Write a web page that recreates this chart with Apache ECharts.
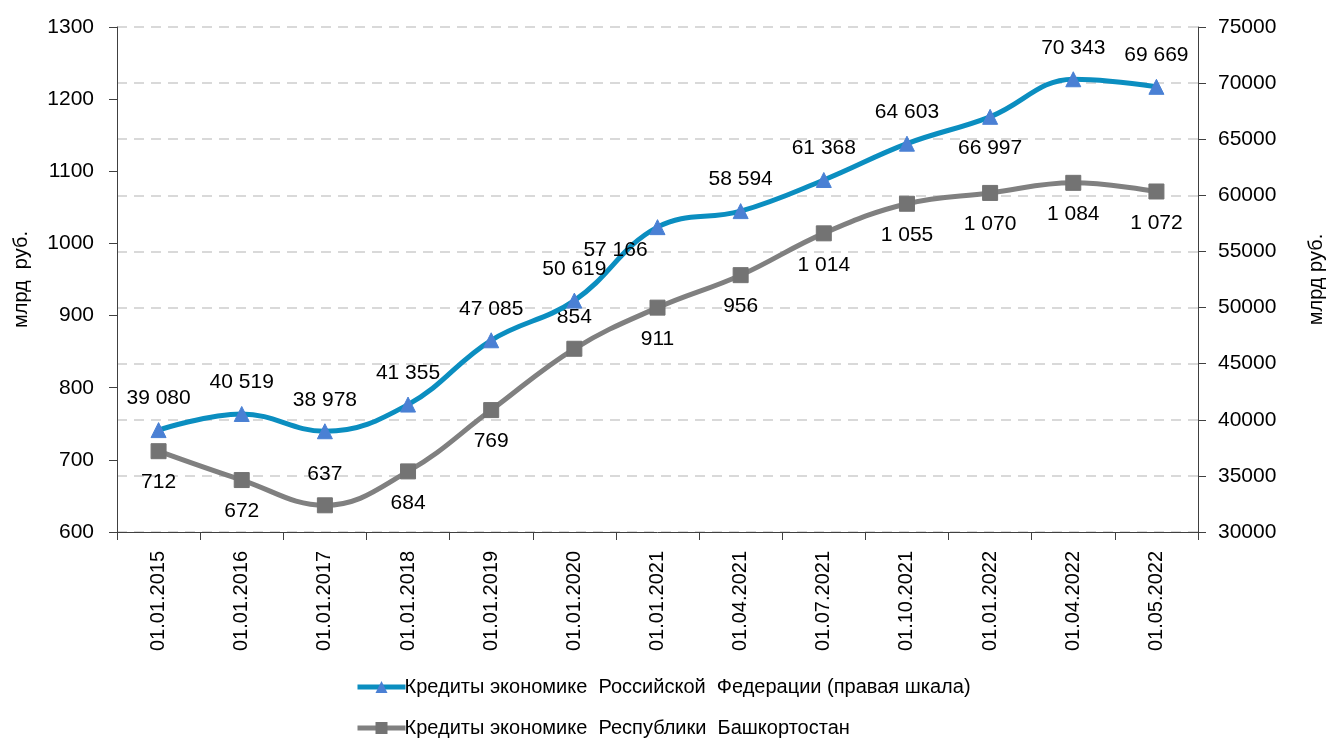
<!DOCTYPE html>
<html>
<head>
<meta charset="utf-8">
<script src="https://cdn.jsdelivr.net/npm/echarts@6/dist/echarts.min.js"></script>
<style>
  html, body { margin: 0; padding: 0; background: #fff; }
  #main { width: 1328px; height: 740px; }
</style>
</head>
<body>
<div id="main"></div>
<script>
    // даты
    var categories = ['01.01.2015', '01.01.2016', '01.01.2017', '01.01.2018', '01.01.2019',
        '01.01.2020', '01.01.2021', '01.04.2021', '01.07.2021', '01.10.2021',
        '01.01.2022', '01.04.2022', '01.05.2022'];
    // млрд руб., правая шкала
    var rfValues = [39080, 40519, 38978, 41355, 47085, 50619, 57166, 58594, 61368, 64603, 66997, 70343, 69669];
    // млрд руб., левая шкала
    var rbValues = [712, 672, 637, 684, 769, 854, 911, 956, 1014, 1055, 1070, 1084, 1072];

    var rfName = 'Кредиты экономике  Российской  Федерации (правая шкала)';
    var rbName = 'Кредиты экономике  Республики  Башкортостан';

    var font = "'Liberation Sans Narrow', 'Arial Narrow', 'Liberation Sans', Arial, sans-serif";

    function fmt(v) {
        // 1084 -> "1 084"
        return String(v).replace(/\B(?=(\d{3})+(?!\d))/g, ' ');
    }

    // подписи, которые стоят не по умолчанию
    var rfLabelPos = {6: {position: 'bottom', offset: [-42, -8]}, 10: {position: 'bottom'}};
    var rbLabelPos = {2: {position: 'top'}, 5: {position: 'top'}};

    var rfData = rfValues.map(function (v, i) {
        var item = {value: v};
        if (rfLabelPos[i]) item.label = rfLabelPos[i];
        return item;
    });
    var rbData = rbValues.map(function (v, i) {
        var item = {value: v};
        if (rbLabelPos[i]) item.label = rbLabelPos[i];
        return item;
    });

    var myChart = echarts.init(document.getElementById('main'));

    var legendText = {color: '#000', fontSize: 20, fontFamily: font, padding: [0, 0, 0, -6]};

    var option = {
        animation: false,
        textStyle: {fontFamily: font},
        grid: {left: 117, right: 130, top: 27, bottom: 208, containLabel: false, outerBoundsMode: 'none'},
        legend: [
            {
                left: 350, top: 672,
                itemWidth: 48, itemHeight: 15,
                lineStyle: {width: 5},
                textStyle: legendText,
                data: [rfName]
            },
            {
                left: 350, top: 713,
                itemWidth: 48, itemHeight: 15,
                lineStyle: {width: 5},
                textStyle: legendText,
                data: [rbName]
            }
        ],
        xAxis: {
            type: 'category',
            data: categories,
            boundaryGap: true,
            axisLine: {lineStyle: {color: '#404040', width: 1}},
            axisTick: {show: true, length: 8, lineStyle: {color: '#404040'}},
            axisLabel: {rotate: 90, interval: 0, margin: 19, color: '#000', fontSize: 20, fontFamily: font}
        },
        yAxis: [
            {
                type: 'value',
                min: 600,
                max: 1300,
                interval: 100,
                name: 'млрд  руб.',
                nameLocation: 'middle',
                nameRotate: 90,
                nameGap: 86,
                nameTextStyle: {color: '#000', fontSize: 20, fontFamily: font},
                axisLine: {show: true, lineStyle: {color: '#404040'}},
                axisTick: {show: true, length: 8, lineStyle: {color: '#404040'}},
                axisLabel: {margin: 23, color: '#000', fontSize: 21, fontFamily: font,
                    formatter: function (v) { return String(v); }},
                splitLine: {show: false}
            },
            {
                type: 'value',
                min: 30000,
                max: 75000,
                interval: 5000,
                position: 'right',
                name: 'млрд руб.',
                nameLocation: 'middle',
                nameRotate: 90,
                nameGap: 108,
                nameTextStyle: {color: '#000', fontSize: 20, fontFamily: font},
                axisLine: {show: true, lineStyle: {color: '#404040'}},
                axisTick: {show: true, length: 8, lineStyle: {color: '#404040'}},
                axisLabel: {margin: 20, color: '#000', fontSize: 21, fontFamily: font,
                    formatter: function (v) { return String(v); }},
                splitLine: {show: true, lineStyle: {color: '#d9d9d9', width: 2, type: [10, 7]}}
            }
        ],
        series: [
            {
                name: rfName,
                type: 'line',
                yAxisIndex: 1,
                smooth: 0.4,
                data: rfData,
                lineStyle: {color: '#0b8ec0', width: 5},
                itemStyle: {color: '#4a80d4', borderColor: '#4a80d4'},
                symbol: 'triangle',
                symbolSize: 15,
                z: 3,
                label: {
                    show: true,
                    position: 'top',
                    distance: 13,
                    color: '#000',
                    fontSize: 21,
                    fontFamily: font,
                    formatter: function (p) { return fmt(p.value); }
                }
            },
            {
                name: rbName,
                type: 'line',
                yAxisIndex: 0,
                smooth: 0.4,
                data: rbData,
                lineStyle: {color: '#808080', width: 5},
                itemStyle: {color: '#737373', borderColor: '#737373'},
                symbol: 'rect',
                symbolSize: 15,
                z: 2,
                label: {
                    show: true,
                    position: 'bottom',
                    distance: 13,
                    color: '#000',
                    fontSize: 21,
                    fontFamily: font,
                    formatter: function (p) { return fmt(p.value); }
                }
            }
        ]
    };

    myChart.setOption(option);
</script>
</body>
</html>
